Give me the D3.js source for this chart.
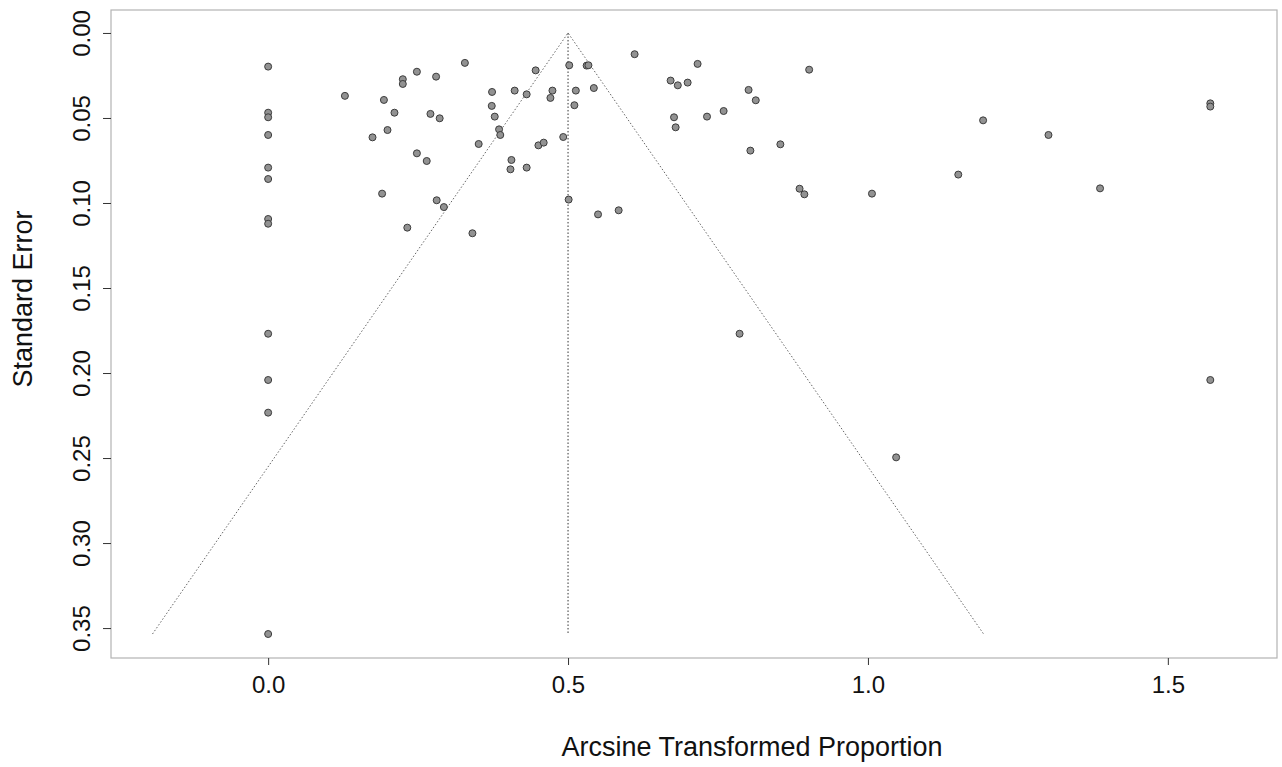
<!DOCTYPE html>
<html>
<head>
<meta charset="utf-8">
<script src="https://cdn.jsdelivr.net/npm/d3@7"></script>
<style>
  body { margin: 0; background: #fff; }
  svg text { font-family: "Liberation Sans", Arial, Helvetica, sans-serif; fill: #111; }
</style>
</head>
<body>
<script>
// arcsine transformed proportion of each study
let effects = [
    0, 0, 0, 0, 0, 0, 0, 0, 0, 0, 0, 0,
    0.128, 0.2245, 0.2245, 0.248, 0.28, 0.328, 0.193, 0.2106, 0.2706, 0.286,
    0.174, 0.199, 0.248, 0.2644, 0.19, 0.281, 0.293, 0.232, 0.3406,
    0.3733, 0.411, 0.431, 0.446, 0.474, 0.4706, 0.502, 0.531, 0.534, 0.513,
    0.5106, 0.3728, 0.3778, 0.385, 0.387, 0.351, 0.4506, 0.4594, 0.492,
    0.4056, 0.404, 0.431, 0.501,
    0.611, 0.716, 0.902, 0.671, 0.683, 0.6994, 0.543, 0.801, 0.813,
    0.6767, 0.6794, 0.7317, 0.7594, 0.804, 0.854, 0.886, 0.894, 1.0067,
    0.55, 0.5844, 1.192, 1.301, 1.1506, 1.387, 1.5708, 1.5708,
    0.786, 1.5708, 1.047
]
// standard error of each study (same order)
let stdErrors = [
    0.0198, 0.0469, 0.0496, 0.060, 0.0792, 0.0859, 0.1094, 0.1122, 0.1769, 0.2041, 0.2233, 0.3535,
    0.037, 0.0272, 0.030, 0.0228, 0.0257, 0.0176, 0.0394, 0.0469, 0.0476, 0.0502,
    0.0614, 0.0571, 0.0708, 0.0753, 0.0945, 0.0984, 0.1024, 0.1145, 0.1178,
    0.0347, 0.0339, 0.0361, 0.022, 0.0339, 0.0382, 0.019, 0.0192, 0.019, 0.0339,
    0.0425, 0.0429, 0.0492, 0.0567, 0.060, 0.0653, 0.0661, 0.0645, 0.0612,
    0.0747, 0.0802, 0.0792, 0.098,
    0.0125, 0.0182, 0.0216, 0.028, 0.0308, 0.0292, 0.0324, 0.0335, 0.0396,
    0.0496, 0.0555, 0.0492, 0.0459, 0.0692, 0.0655, 0.0916, 0.0949, 0.0945,
    0.1067, 0.1043, 0.0514, 0.060, 0.0833, 0.0914, 0.0414, 0.0433,
    0.1769, 0.2041, 0.2496
]

let pooled = 0.5
let seMax = 0.3535
let xTicks = [0, 0.5, 1.0, 1.5]
let yTicks = [0, 0.05, 0.10, 0.15, 0.20, 0.25, 0.30, 0.35]
let xLabel = "Arcsine Transformed Proportion"
let yLabel = "Standard Error"

let width = 1282
let height = 767
let plotLeft = 111, plotRight = 1277, plotTop = 10, plotBottom = 658

let svg = d3.select("body").append("svg")
    .attr("width", width)
    .attr("height", height)

let xScale = d3.scaleLinear()
    .domain([-0.262, 1.682])
    .range([plotLeft, plotRight])

let yScale = d3.scaleLinear()
    .domain([-0.0135, 0.3676])
    .range([plotTop, plotBottom])

// frame
svg.append("rect")
    .attr("x", plotLeft)
    .attr("y", plotTop)
    .attr("width", plotRight - plotLeft)
    .attr("height", plotBottom - plotTop)
    .attr("fill", "none")
    .attr("stroke", "#b3b3b3")
    .attr("stroke-width", 1.2)

// funnel
let funnel = [
    [pooled - 1.96 * seMax, seMax],
    [pooled, 0],
    [pooled + 1.96 * seMax, seMax]
]
let line = d3.line()
    .x(d => xScale(d[0]))
    .y(d => yScale(d[1]))

svg.append("path")
    .attr("d", line(funnel))
    .attr("fill", "none")
    .attr("stroke", "#666")
    .attr("stroke-width", 1)
    .attr("stroke-dasharray", "1.5,2")

svg.append("path")
    .attr("d", line([[pooled, 0], [pooled, seMax]]))
    .attr("fill", "none")
    .attr("stroke", "#333")
    .attr("stroke-width", 1)
    .attr("stroke-dasharray", "1.5,2")

// studies
svg.append("g")
    .selectAll("circle")
    .data(effects)
    .enter()
    .append("circle")
    .attr("cx", d => xScale(d))
    .attr("cy", (d, i) => yScale(stdErrors[i]))
    .attr("r", 3.5)
    .attr("fill", "#929292")
    .attr("stroke", "#3c3c3c")
    .attr("stroke-width", 1)

// axes
let xAxis = svg.append("g")
    .attr("transform", "translate(0," + plotBottom + ")")
    .call(d3.axisBottom(xScale).tickValues(xTicks).tickSize(7).tickFormat(d3.format(".1f")))
xAxis.select(".domain").remove()
xAxis.selectAll("line").attr("stroke", "#333")
xAxis.selectAll("text")
    .attr("y", 35)
    .attr("dy", 0)
    .style("font-size", "24px")

let yAxis = svg.append("g")
    .attr("transform", "translate(" + plotLeft + ",0)")
    .call(d3.axisLeft(yScale).tickValues(yTicks).tickSize(8).tickFormat(d3.format(".2f")))
yAxis.select(".domain").remove()
yAxis.selectAll("line").attr("stroke", "#333")
yAxis.selectAll("text")
    .attr("x", 0)
    .attr("y", 0)
    .attr("dy", 0)
    .attr("text-anchor", "middle")
    .attr("transform", "translate(-21,0) rotate(-90)")
    .style("font-size", "24px")

// titles
svg.append("text")
    .attr("x", 752)
    .attr("y", 756)
    .attr("text-anchor", "middle")
    .style("font-size", "27px")
    .text(xLabel)

svg.append("text")
    .attr("transform", "translate(32,299) rotate(-90)")
    .attr("text-anchor", "middle")
    .style("font-size", "27px")
    .text(yLabel)
</script>
</body>
</html>
